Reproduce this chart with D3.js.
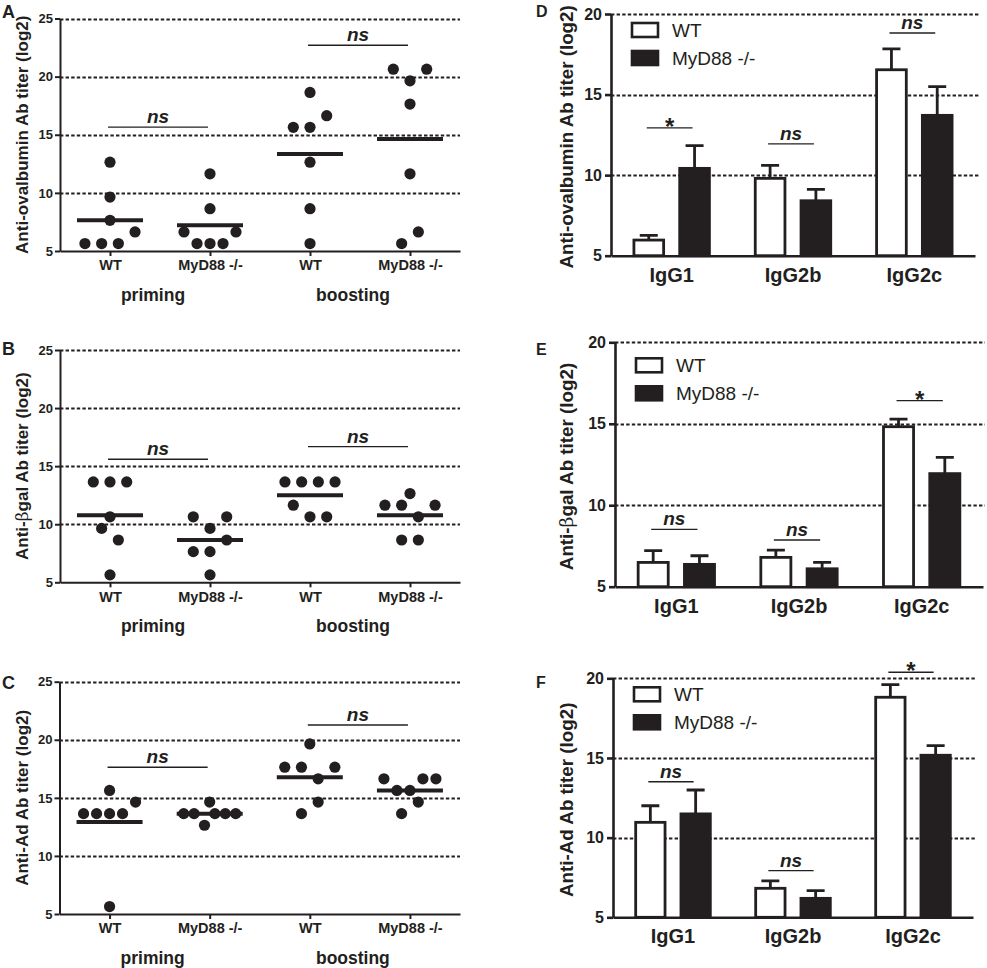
<!DOCTYPE html>
<html>
<head>
<meta charset="utf-8">
<script src="https://cdn.jsdelivr.net/npm/d3@7"></script>
<style>
  body { margin: 0; background: #fff; }
  svg { display: block; }
</style>
</head>
<body>
<div id="chart"></div>
<script>
// Six-panel figure: left column = dot plots (priming / boosting titers, mean bar),
// right column = IgG subclass bars (WT vs MyD88 -/-) with upward SEM whiskers.

// ---- data ----
const scatterCats = ["WT", "MyD88 -/-", "WT", "MyD88 -/-"];
const phases = ["priming", "boosting"];
const scatterTicks = [5, 10, 15, 20, 25];

// log2 titers per animal, one list per column (WT prim, MyD88 prim, WT boost, MyD88 boost)
const ovaScatter = [
  [5.64, 5.64, 5.64, 6.64, 7.64, 9.64, 12.64],
  [6.64, 5.64, 5.64, 5.64, 6.64, 8.64, 11.64],
  [5.64, 8.64, 12.64, 15.64, 15.64, 16.64, 18.64],
  [5.64, 6.64, 11.64, 17.64, 20.64, 19.64, 20.64]
];
const bgalScatter = [
  [5.64, 9.64, 8.64, 10.64, 13.64, 13.64, 13.64],
  [5.64, 7.64, 7.64, 8.64, 10.64, 9.64, 10.64],
  [11.64, 10.64, 10.64, 13.64, 13.64, 13.64, 13.64],
  [8.64, 8.64, 11.64, 11.64, 10.64, 11.64, 12.64]
];
const adScatter = [
  [5.64, 13.64, 13.64, 13.64, 13.64, 14.64, 15.64],
  [13.64, 13.64, 12.64, 13.64, 13.64, 13.64, 14.64],
  [13.64, 14.64, 17.64, 17.64, 16.64, 17.64, 19.64],
  [13.64, 14.64, 16.64, 15.64, 15.64, 16.64, 16.64]
];
// height of the "ns" brackets (priming, boosting)
const ovaScatterSig = [15.66, 22.7];
const bgalScatterSig = [15.59, 16.68];
const adScatterSig = [17.63, 21.27];

const isotypes = ["IgG1", "IgG2b", "IgG2c"];
const strains = ["WT", "MyD88 -/-"];
const barTicks = [5, 10, 15, 20];

const ovaWT = [5.97, 9.8, 16.54];
const ovaWTsem = [0.29, 0.8, 1.29];
const ovaKO = [10.42, 8.41, 13.71];
const ovaKOsem = [1.41, 0.71, 1.78];
const ovaBarSig = [12.93, 11.94, 18.82];
const ovaBarSigLabel = ["*", "ns", "ns"];

const bgalWT = [6.49, 6.8, 14.82];
const bgalWTsem = [0.72, 0.45, 0.47];
const bgalKO = [6.37, 6.1, 11.94];
const bgalKOsem = [0.53, 0.39, 1.0];
const bgalBarSig = [8.52, 7.87, 16.42];
const bgalBarSigLabel = ["ns", "ns", "*"];

const adWT = [10.96, 6.82, 18.81];
const adWTsem = [1.04, 0.46, 0.79];
const adKO = [11.49, 6.19, 15.17];
const adKOsem = [1.5, 0.48, 0.6];
const adBarSig = [13.51, 7.93, 20.38];
const adBarSigLabel = ["ns", "ns", "*"];

// ---- drawing ----
const W = 987, H = 968;
const ink = "#231f20";
const font = "'Liberation Sans', Arial, Helvetica, sans-serif";

const svg = d3.select("#chart").append("svg").attr("width", W).attr("height", H)
  .attr("font-family", font);
svg.append("rect").attr("width", W).attr("height", H).attr("fill", "#fff");

const dotStep = 16.7, dotSpread = 52, dotR = 5.6;

// Prism-like spreading: points within 1 log2 unit of a cluster's lowest value
// share a row and get spread out horizontally, capped to a max width.
function swarm(vals) {
  const idx = d3.range(vals.length).sort((a, b) => vals[a] - vals[b] || a - b);
  const off = new Array(vals.length).fill(0);
  let i = 0;
  while (i < idx.length) {
    const start = vals[idx[i]];
    let j = i;
    while (j < idx.length && vals[idx[j]] <= start + 1.01) j++;
    const members = idx.slice(i, j).sort((a, b) => a - b);
    const n = members.length;
    const step = n > 1 ? Math.min(dotStep, dotSpread / (n - 1)) : 0;
    members.forEach((m, k) => (off[m] = (k - (n - 1) / 2) * step));
    i = j;
  }
  return off;
}

function grid(g, y, ticks, x1, x2) {
  g.append("g").selectAll("line").data(ticks.slice(1)).join("line")
    .attr("x1", x1).attr("x2", x2)
    .attr("y1", (d) => Math.round(y(d)) + 0.5).attr("y2", (d) => Math.round(y(d)) + 0.5)
    .attr("stroke", ink).attr("stroke-width", 2).attr("stroke-dasharray", "3.4,2.2");
}

function styleAxis(a, size, width) {
  a.attr("font-family", font);
  a.select(".domain").attr("stroke", ink).attr("stroke-width", width);
  a.selectAll(".tick line").attr("stroke", ink).attr("stroke-width", width);
  a.selectAll(".tick text").attr("fill", ink).attr("font-size", size).attr("font-weight", "bold");
}

function yTitle(g, parts, x, yMid, size) {
  const t = g.append("text")
    .attr("transform", `translate(${x},${yMid}) rotate(-90)`)
    .attr("text-anchor", "middle").attr("font-size", size).attr("font-weight", "bold").attr("fill", ink);
  parts.forEach(([s, bold]) => t.append("tspan").text(s).attr("font-weight", bold ? "bold" : "normal")
    .attr("font-family", bold ? font : "'DejaVu Serif', 'Liberation Serif', serif"));
}

function scatterPanel(p) {
  const g = svg.append("g");
  const x = d3.scalePoint().domain(d3.range(scatterCats.length)).range([p.left, p.right]).padding(0.5);
  const y = d3.scaleLinear().domain([5, 25]).range([p.bottom, p.top]);

  grid(g, y, scatterTicks, p.left, p.right);

  g.append("g").attr("transform", `translate(${p.left},0)`)
    .call(d3.axisLeft(y).tickValues(scatterTicks).tickSize(5).tickSizeOuter(0).tickPadding(2))
    .call((a) => styleAxis(a, 13, 2));
  g.append("g").attr("transform", `translate(0,${p.bottom})`)
    .call(d3.axisBottom(x).tickFormat((i) => scatterCats[i]).tickSize(5).tickSizeOuter(0).tickPadding(4))
    .call((a) => styleAxis(a, 14.5, 2));

  // dots + mean line
  p.data.forEach((vals, c) => {
    const off = swarm(vals);
    g.append("g").selectAll("circle").data(vals).join("circle")
      .attr("cx", (d, i) => x(c) + off[i]).attr("cy", (d) => y(d)).attr("r", dotR)
      .attr("fill", ink);
    const m = d3.mean(vals);
    g.append("line").attr("x1", x(c) - 33).attr("x2", x(c) + 33)
      .attr("y1", y(m)).attr("y2", y(m)).attr("stroke", ink).attr("stroke-width", 4);
  });

  // ns brackets and phase labels
  phases.forEach((ph, k) => {
    const a = x(2 * k) - 2, b = x(2 * k + 1) - 2, yy = y(p.sig[k]);
    g.append("line").attr("x1", a).attr("x2", b).attr("y1", yy).attr("y2", yy)
      .attr("stroke", ink).attr("stroke-width", 1.4);
    g.append("text").attr("x", (a + b) / 2).attr("y", yy - 4).attr("text-anchor", "middle")
      .attr("font-size", 19).attr("font-weight", "bold").attr("font-style", "italic").attr("fill", ink)
      .text("ns");
    g.append("text").attr("x", (x(2 * k) + x(2 * k + 1)) / 2 - 7).attr("y", p.bottom + 50)
      .attr("text-anchor", "middle").attr("font-size", 17.5).attr("font-weight", "bold").attr("fill", ink)
      .text(ph);
  });

  yTitle(g, p.title, 28, (p.top + p.bottom) / 2, 17);
  g.append("text").attr("x", 2).attr("y", p.letterY).attr("font-size", 18).attr("font-weight", "bold")
    .attr("fill", ink).text(p.letter);
}

function barPanel(p) {
  const g = svg.append("g");
  const x0 = d3.scaleBand().domain(isotypes).range([p.left, p.right]);
  const x1 = d3.scaleBand().domain(strains).range([0, x0.bandwidth()]).paddingInner(0.29).paddingOuter(0.47);
  const y = d3.scaleLinear().domain([5, 20]).range([p.bottom, p.top]);

  grid(g, y, barTicks, p.left, p.gridRight);

  const rows = [];
  isotypes.forEach((iso, i) => {
    rows.push({ iso, s: strains[0], v: p.wt[i], e: p.wtSem[i] });
    rows.push({ iso, s: strains[1], v: p.ko[i], e: p.koSem[i] });
  });
  const cx = (d) => x0(d.iso) + x1(d.s) + x1.bandwidth() / 2;

  // whiskers (upper half only)
  g.append("g").selectAll("path").data(rows).join("path")
    .attr("d", (d) => `M${cx(d)},${y(d.v)}V${y(d.v + d.e)}M${cx(d) - 9},${y(d.v + d.e)}H${cx(d) + 9}`)
    .attr("stroke", ink).attr("stroke-width", 2.8).attr("fill", "none");

  g.append("g").selectAll("rect").data(rows).join("rect")
    .attr("x", (d) => x0(d.iso) + x1(d.s) + 1.4)
    .attr("width", x1.bandwidth() - 2.8)
    .attr("y", (d) => y(d.v)).attr("height", (d) => y(5) - y(d.v))
    .attr("fill", (d) => (d.s === strains[0] ? "#fff" : ink))
    .attr("stroke", ink).attr("stroke-width", 2.8);

  g.append("g").attr("transform", `translate(${p.left},0)`)
    .call(d3.axisLeft(y).tickValues(barTicks).tickSize(6).tickSizeOuter(0).tickPadding(3))
    .call((a) => styleAxis(a, 16, 2.6));
  g.append("g").attr("transform", `translate(0,${p.bottom})`)
    .call(d3.axisBottom(x0).tickSize(0).tickPadding(12))
    .call((a) => styleAxis(a, 20, 2.6));

  // significance brackets
  isotypes.forEach((iso, i) => {
    const a = x0(iso) + x1(strains[0]) + x1.bandwidth() / 2 - 2;
    const b = x0(iso) + x1(strains[1]) + x1.bandwidth() / 2 - 2;
    const yy = y(p.sig[i]);
    g.append("line").attr("x1", a).attr("x2", b).attr("y1", yy).attr("y2", yy)
      .attr("stroke", ink).attr("stroke-width", 1.4);
    const star = p.sigLabel[i] === "*";
    g.append("text").attr("x", (a + b) / 2).attr("y", star ? yy + 7 : yy - 4).attr("text-anchor", "middle")
      .attr("font-size", star ? 24 : 19).attr("font-weight", "bold")
      .attr("font-style", star ? "normal" : "italic").attr("fill", ink)
      .text(p.sigLabel[i]);
  });

  // legend
  const leg = g.append("g").attr("transform", `translate(${p.left + 21},${p.top + p.legDy})`);
  strains.forEach((s, k) => {
    leg.append("rect").attr("x", 0).attr("y", k * 28 - 7).attr("width", 26).attr("height", 14)
      .attr("fill", k === 0 ? "#fff" : ink).attr("stroke", ink).attr("stroke-width", 2.6);
    leg.append("text").attr("x", 40).attr("y", k * 28 + 7).attr("font-size", 19).attr("fill", ink).text(s);
  });

  yTitle(g, p.title, 573, (p.top + p.bottom) / 2 + 2, 18.8);
  g.append("text").attr("x", 536).attr("y", p.letterY).attr("font-size", 16).attr("font-weight", "bold")
    .attr("fill", ink).text(p.letter);
}

scatterPanel({ letter: "A", letterY: 18, left: 60, right: 460, top: 18.5, bottom: 251,
  data: ovaScatter, sig: ovaScatterSig, title: [["Anti-ovalbumin Ab titer (log2)", true]] });
scatterPanel({ letter: "B", letterY: 355, left: 60, right: 460, top: 350, bottom: 582.3,
  data: bgalScatter, sig: bgalScatterSig, title: [["Anti-", true], ["\u03b2", false], ["gal Ab titer (log2)", true]] });
scatterPanel({ letter: "C", letterY: 689, left: 59.5, right: 460, top: 681.7, bottom: 914,
  data: adScatter, sig: adScatterSig, title: [["Anti-Ad Ab titer (log2)", true]] });

barPanel({ letter: "D", letterY: 17, left: 611, right: 975, gridRight: 980, top: 14, bottom: 255.7, legDy: 16,
  wt: ovaWT, wtSem: ovaWTsem, ko: ovaKO, koSem: ovaKOsem, sig: ovaBarSig, sigLabel: ovaBarSigLabel,
  title: [["Anti-ovalbumin Ab titer (log2)", true]] });
barPanel({ letter: "E", letterY: 355, left: 615, right: 983, gridRight: 985, top: 342.3, bottom: 586.7, legDy: 23,
  wt: bgalWT, wtSem: bgalWTsem, ko: bgalKO, koSem: bgalKOsem, sig: bgalBarSig, sigLabel: bgalBarSigLabel,
  title: [["Anti-", true], ["\u03b2", false], ["gal Ab titer (log2)", true]] });
barPanel({ letter: "F", letterY: 688, left: 613, right: 973, gridRight: 976, top: 678.3, bottom: 917.3, legDy: 16,
  wt: adWT, wtSem: adWTsem, ko: adKO, koSem: adKOsem, sig: adBarSig, sigLabel: adBarSigLabel,
  title: [["Anti-Ad Ab titer (log2)", true]] });
</script>
</body>
</html>
